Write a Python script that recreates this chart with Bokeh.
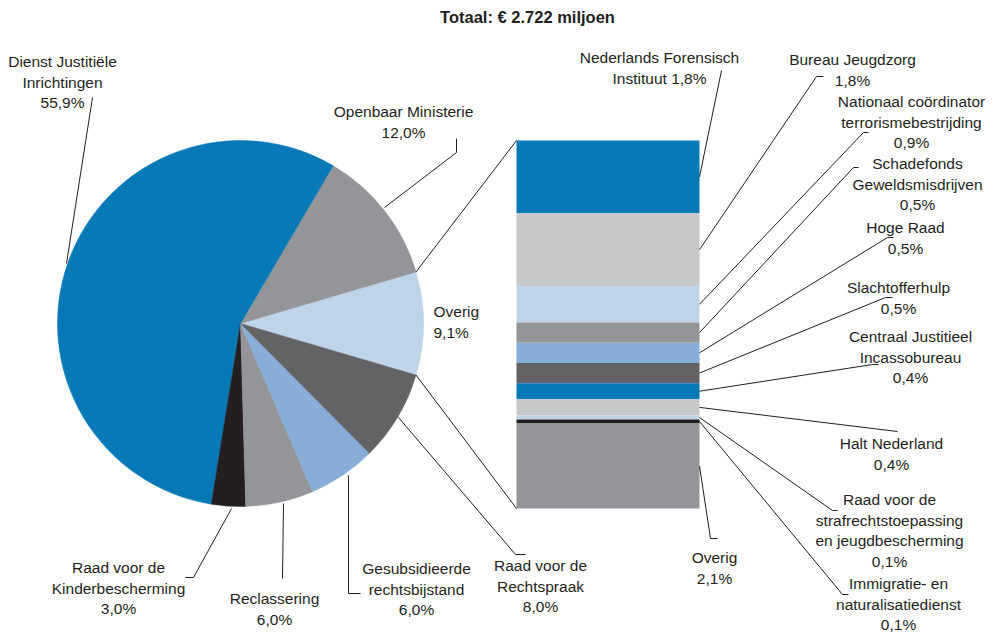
import math
from bokeh.plotting import figure
from bokeh.models import Range1d, ColumnDataSource
from bokeh.core.properties import value
from bokeh.embed import file_html
from bokeh.resources import INLINE

# ---------------- data ----------------
title = "Totaal: € 2.722 miljoen"

pie_names = ["Overig", "Openbaar Ministerie", "Dienst Justitiële\nInrichtingen",
             "Raad voor de\nKinderbescherming", "Reclassering",
             "Gesubsidieerde\nrechtsbijstand", "Raad voor de\nRechtspraak"]
pie_values = [9.1, 12.0, 55.9, 3.0, 6.0, 6.0, 8.0]
pie_colors = ["#bfd3e9", "#939598", "#0779b7", "#231f20", "#939598", "#86aed6", "#636365"]

bar_names = ["Nederlands Forensisch\nInstituut", "Bureau Jeugdzorg",
             "Nationaal coördinator\nterrorismebestrijding", "Schadefonds\nGeweldsmisdrijven",
             "Hoge Raad", "Slachtofferhulp", "Centraal Justitieel\nIncassobureau",
             "Halt Nederland", "Raad voor de\nstrafrechtstoepassing\nen jeugdbescherming",
             "Immigratie- en\nnaturalisatiedienst", "Overig"]
bar_values = [1.8, 1.8, 0.9, 0.5, 0.5, 0.5, 0.4, 0.4, 0.1, 0.1, 2.1]
bar_colors = ["#0779b7", "#c6c7c9", "#bfd3e9", "#939598", "#86aed6", "#636365",
              "#0779b7", "#c6c7c9", "#bfd3e9", "#231f20", "#939598"]
bar_value_inline = [True] + [False] * 10

# ---------------- layout (page pixels) ----------------
W, H = 998, 632
def Y(py):
    return H - py

PIE_CX, PIE_CY, PIE_R = 240, 323, 183
BAR_X0, BAR_X1 = 516, 699
BAR_TOP, BAR_BOT = 140, 508
LINE_H = 20.5
FONT = "Liberation Sans"
TXT = "#231f20"

def fmt(v):
    return ("%.1f" % v).replace(".", ",") + "%"

p = figure(width=W, height=H, x_range=Range1d(0, W), y_range=Range1d(0, H),
           output_backend="svg", toolbar_location=None,
           x_axis_location=None, y_axis_location=None,
           min_border=0, outline_line_color=None, background_fill_color="white",
           border_fill_color="white")
p.xgrid.visible = False
p.ygrid.visible = False

# ---------------- pie ----------------
total_pie = sum(pie_values)
start0 = -pie_values[0] / total_pie * math.pi
starts, ends = [], []
acc = start0
for v in pie_values:
    starts.append(acc)
    acc += v / total_pie * 2 * math.pi
    ends.append(acc)
pie_src = ColumnDataSource(dict(x=[PIE_CX] * len(pie_values), y=[Y(PIE_CY)] * len(pie_values),
                                s=starts, e=ends, c=pie_colors))
p.wedge(x="x", y="y", radius=PIE_R, radius_units="screen", start_angle="s", end_angle="e",
        fill_color="c", line_color="c", line_width=0.5, source=pie_src)

# ---------------- stacked bar (own range in %) ----------------
bar_total = sum(bar_values)
ppp = (BAR_BOT - BAR_TOP) / bar_total
bar_lo = -(H - BAR_BOT) / ppp
bar_hi = bar_total + BAR_TOP / ppp
p.extra_y_ranges = {"bar": Range1d(bar_lo, bar_hi)}
tops, bots, mids = [], [], []
acc = 0.0
for v in bar_values:
    tops.append(bar_total - acc)
    bots.append(bar_total - acc - v)
    mids.append(bar_total - acc - v / 2)
    acc += v
bar_src = ColumnDataSource(dict(left=[BAR_X0] * len(bar_values), right=[BAR_X1] * len(bar_values),
                                top=tops, bottom=bots, c=bar_colors))
p.quad(left="left", right="right", top="top", bottom="bottom", fill_color="c",
       line_color=None, y_range_name="bar", source=bar_src)

def bar_py(v):
    return BAR_BOT - v * ppp

# ---------------- leader lines ----------------
xs, ys = [], []
def add(pts):
    xs.append([q[0] for q in pts])
    ys.append([Y(q[1]) for q in pts])

# pie -> bar connectors
a0, a1 = starts[0], ends[0]
add([(PIE_CX + PIE_R * math.cos(a1), PIE_CY - PIE_R * math.sin(a1)), (BAR_X0, BAR_TOP)])
add([(PIE_CX + PIE_R * math.cos(a0), PIE_CY - PIE_R * math.sin(a0)), (BAR_X0, BAR_BOT)])

# pie labels
add([(92, 97), (66, 263)])                       # DJI
add([(456, 138), (456, 152), (384, 207)])        # OM
add([(398, 417), (515, 554), (525, 554)])        # Rechtspraak
add([(348, 475), (348, 593), (360, 593)])        # Gesubsidieerde
add([(283, 503), (282, 578)])                    # Reclassering
add([(231, 508), (193, 577), (185, 577)])        # Kinderbescherming

# bar labels: label-side points
bar_leader = [
    [(721, 70)],
    [(823, 76), (816, 76)],
    [(868, 132), (863, 132)],
    [(858, 167), (853, 167)],
    [(893, 237), (887, 237)],
    [(892, 297), (885, 297)],
    [(878, 364), (872, 364)],
    [(897, 431)],
    [(837, 510), (832, 510)],
    [(848, 594), (842, 594)],
    [(717, 538), (710, 538)],
]
for i, pts in enumerate(bar_leader):
    add(pts + [(BAR_X1, bar_py(mids[i]))])

p.multi_line(xs=xs, ys=ys, line_color=TXT, line_width=1)

# ---------------- labels ----------------
pie_label_pos = [(433, 311, "left"), (403, 111, "center"), (62, 61, "center"),
                 (118, 567, "center"), (274, 598, "center"), (416, 568, "center"),
                 (540, 565, "center")]
bar_label_pos = [(659, 57), (852, 59), (911, 101), (917, 163), (905, 227), (898, 287),
                 (910, 336), (891, 443), (889, 499), (898, 583), (714, 557)]

tx, ty, tt, ta = [], [], [], []
def put(text, x, y0, align):
    for k, line in enumerate(text.split("\n")):
        tx.append(x)
        ty.append(Y(y0 + k * LINE_H))
        tt.append(line)
        ta.append(align)

for name, v, (x, y0, al) in zip(pie_names, pie_values, pie_label_pos):
    put(name + "\n" + fmt(v), x, y0, al)
for name, v, inline, (x, y0) in zip(bar_names, bar_values, bar_value_inline, bar_label_pos):
    put(name + (" " if inline else "\n") + fmt(v), x, y0, "center")

p.text(x=tx, y=ty, text=tt, text_align=ta, text_baseline="middle",
       text_font=value(FONT), text_font_size="15.5px", text_color=TXT)

p.text(x=[527], y=[Y(16)], text=[title], text_align="center", text_baseline="middle",
       text_font=value(FONT), text_font_size="16.5px", text_font_style="bold", text_color=TXT)

open("out.html", "w").write(file_html(p, INLINE))
